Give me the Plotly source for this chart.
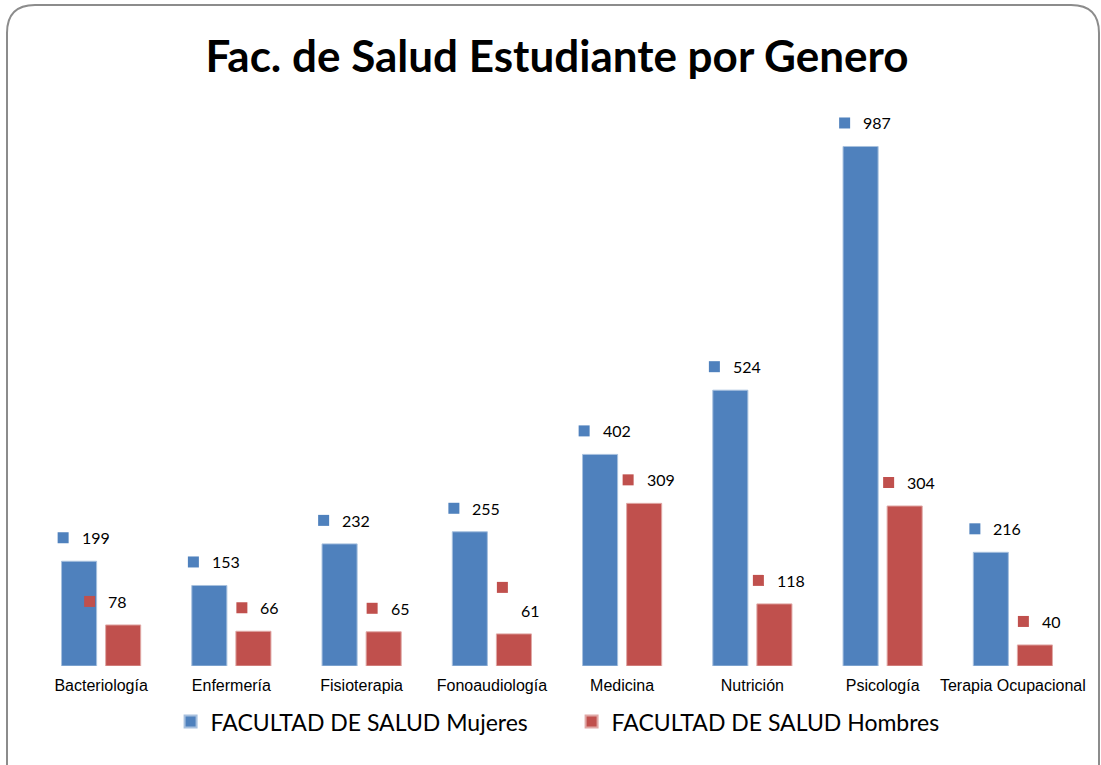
import plotly.graph_objects as go

categories = ["Bacteriología", "Enfermería", "Fisioterapia", "Fonoaudiología",
              "Medicina", "Nutrición", "Psicología", "Terapia Ocupacional"]
mujeres = [199, 153, 232, 255, 402, 524, 987, 216]
hombres = [78, 66, 65, 61, 309, 118, 304, 40]
series_names = ["FACULTAD DE SALUD Mujeres", "FACULTAD DE SALUD Hombres"]
title_text = "Fac. de Salud Estudiante por Genero"

# style
colors = ["#4F81BD", "#C0504D"]
outline = ["#A7C0DE", "#E0A8A6"]
bar_offset = [-22, 22]
label_dx = [[0] * 8, [-22, 0, 0, 0, 0, 0, 0, 0]]
square_dy = [[0] * 8, [0, 0, 0, 23, 0, 0, 0, 0]]
LABEL_FONT = "Lato, 'Open Sans', sans-serif"

fig = go.Figure()
for name, vals, col, oc in zip(series_names, [mujeres, hombres], colors, outline):
    fig.add_trace(go.Bar(x=categories, y=vals, name=name,
                         marker=dict(color=col, line=dict(color=oc, width=1))))

annotations = []
shapes = []
for s, vals in enumerate([mujeres, hombres]):
    for i, (cat, v) in enumerate(zip(categories, vals)):
        nd = len(str(v))
        W = 22 + 9 * nd
        base = bar_offset[s] + label_dx[s][i] + 3 - W / 2
        sq_c = base + 5.5
        txt_left = base + 22
        annotations.append(dict(x=cat, y=v, xref="x", yref="y", text=str(v),
                                showarrow=False, xanchor="left", yanchor="middle",
                                xshift=txt_left, yshift=23.5,
                                font=dict(family=LABEL_FONT, size=16, color="#000")))
        shapes.append(dict(type="rect", xref="x", yref="y",
                           xsizemode="pixel", ysizemode="pixel",
                           xanchor=cat, yanchor=v,
                           x0=sq_c - 5.5, x1=sq_c + 5.5,
                           y0=23.5 - 5.5 + square_dy[s][i], y1=23.5 + 5.5 + square_dy[s][i],
                           fillcolor=colors[s], line=dict(width=0)))

# rounded border (pixel coords relative to plot-area top-left)
L, T = 36, 87
x0, x1 = 7 - L, 1099 - L
ytop, ybot = T - 5, T - 790
r = 28
path = (f"M {x0},{ybot} L {x0},{ytop - r} Q {x0},{ytop} {x0 + r},{ytop} "
        f"L {x1 - r},{ytop} Q {x1},{ytop} {x1},{ytop - r} L {x1},{ybot}")
shapes.append(dict(type="path", xref="paper", yref="paper",
                   xsizemode="pixel", ysizemode="pixel", xanchor=0, yanchor=1,
                   path=path, line=dict(color="#8C8C8C", width=2), layer="below"))

fig.update_layout(
    width=1101, height=765,
    margin=dict(l=36, r=23, t=87, b=99),
    paper_bgcolor="white", plot_bgcolor="white",
    barmode="group", bargap=0.323, bargroupgap=0.205,
    title=dict(text=f"<b>{title_text}</b>", x=0.5, xref="paper", xanchor="center",
               y=1 - 57 / 765, yref="container", yanchor="middle",
               font=dict(family=LABEL_FONT, size=44, color="#000")),
    xaxis=dict(showline=False, showgrid=False, ticks="outside", ticklen=5,
               tickcolor="rgba(0,0,0,0)",
               tickfont=dict(family="'Liberation Sans', Arial, sans-serif", size=16, color="#000")),
    yaxis=dict(range=[0, 1100], visible=False, showgrid=False),
    legend=dict(orientation="h", x=0.514, xanchor="center", y=-0.059, yanchor="top",
                font=dict(family=LABEL_FONT, size=23, color="#000"),
                entrywidth=356, itemsizing="constant", traceorder="normal"),
    annotations=annotations, shapes=shapes,
    showlegend=True,
)

fig.write_html("out.html", post_script="document.body.style.margin='0';",
               config={"displayModeBar": False})
